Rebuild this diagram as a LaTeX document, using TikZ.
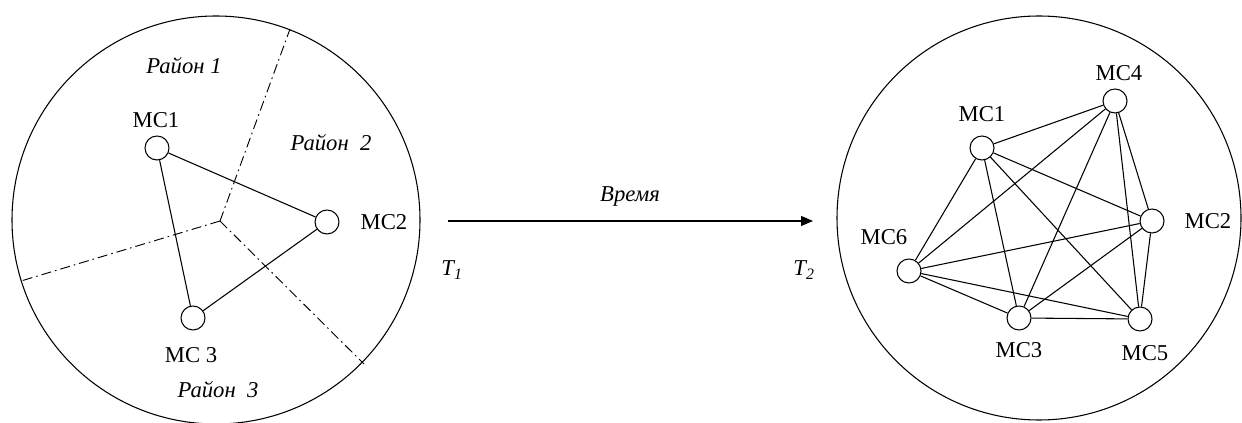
\documentclass[tikz,border=0pt]{standalone}
\usepackage{fontspec}
\setmainfont{Liberation Serif}
\usetikzlibrary{arrows.meta}
\begin{document}
\begin{tikzpicture}[x=0.75pt,y=-0.75pt,
  station/.style={circle,draw,line width=0.8pt,minimum size=18pt,inner sep=0pt,fill=white},
  lbl/.style={font=\fontsize{17}{20}\selectfont,inner sep=0pt},
  rlbl/.style={font=\fontsize{17}{20}\selectfont\itshape,inner sep=0pt},
  link/.style={line width=0.8pt},
  border/.style={line width=0.8pt},
  zone/.style={line width=0.7pt,dash pattern=on 7.5pt off 3pt on 1.2pt off 3pt}]
\clip (0,0) rectangle (1242,423);
\useasboundingbox (0,0) rectangle (1242,423);
% left cell
\draw[border] (216,220) circle[radius=153pt];
\coordinate (c0) at (220,221);
\coordinate (zt) at (290,29);
\coordinate (zl) at (21,281);
\coordinate (zb) at (364,364);
\draw[zone] (c0) -- (zt);
\draw[zone] (c0) -- (zl);
\draw[zone] (c0) -- (zb);
\node[station] (a1) at (157,148) {};
\node[station] (a2) at (327,222) {};
\node[station] (a3) at (193,318) {};
\draw[link] (a1) -- (a2);
\draw[link] (a1) -- (a3);
\draw[link] (a2) -- (a3);
\node[lbl] (la1) at (156,120) {МС1};
\node[lbl] (la2) at (384,222) {МС2};
\node[lbl] (la3) at (191,355) {МС 3};
\node[rlbl] (r1) at (184,66) {Район 1};
\node[rlbl] (r2) at (331,143) {Район\ \ 2};
\node[rlbl] (r3) at (218,390) {Район\ \ 3};
% arrow
\coordinate (t1) at (448,221);
\coordinate (t2) at (813,221);
\draw[line width=0.8pt,-{Triangle[length=9pt,width=7.5pt]}] (t1) -- (t2);
\node[rlbl] (vr) at (630,196) {Время};
\node[rlbl] (lt1) at (452,270) {T\textsubscript{1}};
\node[rlbl] (lt2) at (804,270) {T\textsubscript{2}};
% right cell
\draw[border] (1039,218) circle[radius=151.5pt];
\node[station] (b1) at (982,148) {};
\node[station] (b2) at (1152,221) {};
\node[station] (b3) at (1019,318) {};
\node[station] (b4) at (1115,101) {};
\node[station] (b5) at (1140,319) {};
\node[station] (b6) at (909,271) {};
\foreach \p/\q in {b1/b2,b1/b3,b1/b4,b1/b5,b1/b6,b2/b3,b2/b4,b2/b5,b2/b6,b3/b4,b3/b5,b3/b6,b4/b5,b4/b6,b5/b6}
  \draw[link] (\p) -- (\q);
\node[lbl] (lb1) at (982,114) {МС1};
\node[lbl] (lb2) at (1208,221) {МС2};
\node[lbl] (lb3) at (1019,350) {МС3};
\node[lbl] (lb4) at (1119,73) {МС4};
\node[lbl] (lb5) at (1145,353) {МС5};
\node[lbl] (lb6) at (884,237) {МС6};
\end{tikzpicture}
\end{document}
